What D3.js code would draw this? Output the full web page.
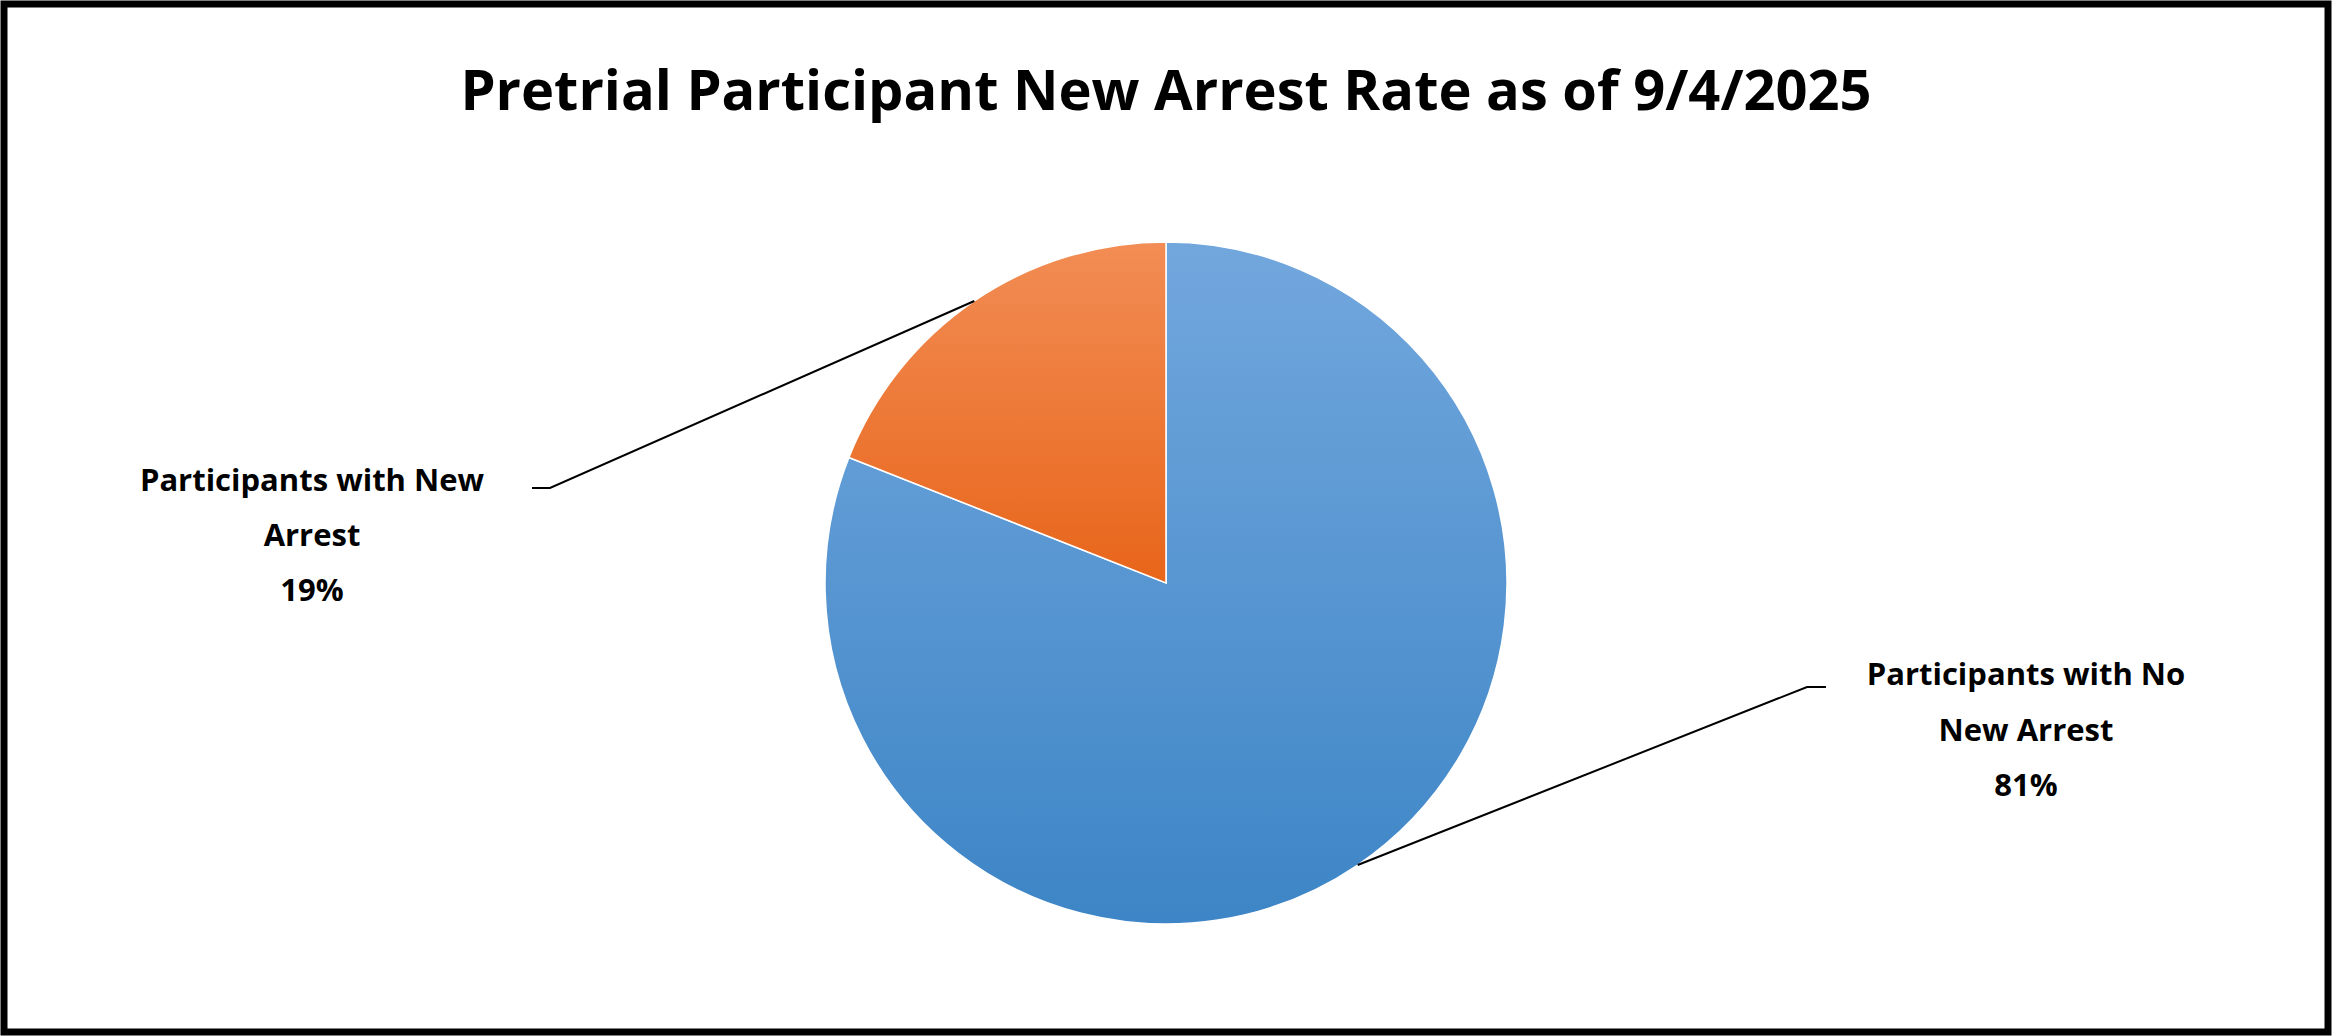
<!DOCTYPE html>
<html><head><meta charset="utf-8">
<script src="https://cdn.jsdelivr.net/npm/d3@7"></script>
<style>body{margin:0;background:#fff}</style></head>
<body><svg id="c" width="2332" height="1036"></svg>
<script>
const categories = ["Participants with No New Arrest", "Participants with New Arrest"];
const labelLines = [["Participants with No", "New Arrest"], ["Participants with New", "Arrest"]];
const values = [81, 19];
const title = "Pretrial Participant New Arrest Rate as of 9/4/2025";

const svg = d3.select("#c");
svg.append("rect").attr("x",4).attr("y",4).attr("width",2324).attr("height",1028)
  .attr("fill","#fff").attr("stroke","#000").attr("stroke-width",7);
svg.append("text").attr("x",1166).attr("y",110).attr("text-anchor","middle")
  .attr("font-family","Open Sans").attr("font-weight","bold").attr("font-size",56).text(title);

const defs = svg.append("defs");
const grads = [["#72a7dd","#3d85c6"],["#f28d55","#e8651a"]];
grads.forEach((g,i)=>{
  const lg = defs.append("linearGradient").attr("id","g"+i).attr("x1",0).attr("y1",0).attr("x2",0).attr("y2",1);
  lg.append("stop").attr("offset","0%").attr("stop-color",g[0]);
  lg.append("stop").attr("offset","100%").attr("stop-color",g[1]);
});

const cx=1166, cy=583, r=341;
const pie = d3.pie().sort(null).value(d=>d)(values);
const arc = d3.arc().innerRadius(0).outerRadius(r);
const g = svg.append("g").attr("transform",`translate(${cx},${cy})`);
g.selectAll("path").data(pie).join("path").attr("d",arc)
  .attr("fill",(d,i)=>`url(#g${i})`).attr("stroke","#fff").attr("stroke-width",1.5);

// label layout
const lab = [
  {elbow:[1807,687], end:[1826,687], tx:2026, ty:[674,730,785]},
  {elbow:[550,488], end:[532,488], tx:312, ty:[480,535,590]}
];
pie.forEach((d,i)=>{
  const a=(d.startAngle+d.endAngle)/2;
  const p=[cx+r*Math.sin(a), cy-r*Math.cos(a)];
  const L=lab[i];
  svg.append("polyline").attr("points",[p,L.elbow,L.end].map(q=>q.join(",")).join(" "))
    .attr("fill","none").attr("stroke","#000").attr("stroke-width",2);
  const lines=[...labelLines[i], Math.round(values[i])+"%"];
  lines.forEach((t,j)=>svg.append("text").attr("x",L.tx).attr("y",L.ty[j]).attr("dy","0.35em")
    .attr("text-anchor","middle").attr("font-family","Open Sans").attr("font-weight","bold")
    .attr("font-size",31).text(t));
});
</script></body></html>
